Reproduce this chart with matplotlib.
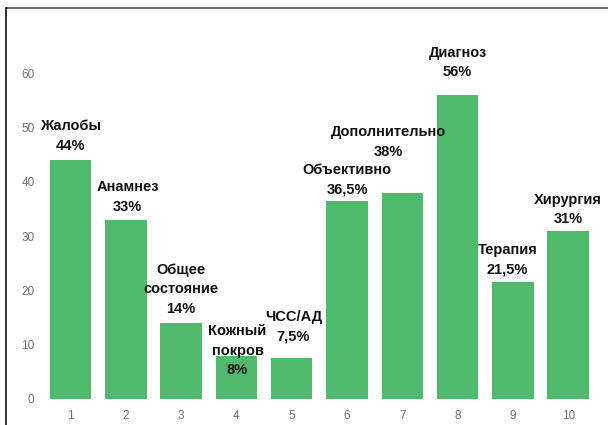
import matplotlib
matplotlib.use('Agg')
import matplotlib.pyplot as plt
from matplotlib.lines import Line2D

# Data
positions = [1, 2, 3, 4, 5, 6, 7, 8, 9, 10]
values = [44, 33, 14, 8, 7.5, 36.5, 38, 56, 21.5, 31]
names = ['Жалобы', 'Анамнез', 'Общее\nсостояние', 'Кожный\nпокров', 'ЧСС/АД',
         'Объективно', 'Дополнительно', 'Диагноз', 'Терапия', 'Хирургия']
value_labels = ['44%', '33%', '14%', '8%', '7,5%', '36,5%', '38%', '56%', '21,5%', '31%']
y_ticks = [0, 10, 20, 30, 40, 50, 60]

# label layout: y of the bottom line centre (data units) and x shift
label_y = [46.6, 35.4, 16.6, 5.3, 11.6, 38.5, 45.5, 60.2, 23.9, 33.1]
label_dx = [0, 0.03, 0, 0.02, 0.03, 0, -0.25, 0, -0.1, 0]

plt.rcParams['font.family'] = ['Liberation Sans', 'DejaVu Sans']

fig = plt.figure(figsize=(6.08, 4.25), dpi=100)
ax = fig.add_axes([0.0705, 0.0612, 0.9095, 0.8306])

ax.bar(positions, values, width=0.75, color='#4fba6c')

# bar captions: name on top, percentage below
for x, dx, ly, name, val in zip(positions, label_dx, label_y, names, value_labels):
    ax.text(x + dx, ly - 1.3, f'{name}\n{val}', ha='center', va='bottom',
            multialignment='center', fontsize=10.5, fontweight='bold',
            color='#111111', linespacing=1.5, clip_on=False)

ax.set_xlim(0.5, 10.5)
ax.set_ylim(0, 65)
ax.set_xticks(positions)
ax.set_yticks(y_ticks)
ax.tick_params(axis='both', length=0, labelsize=8.5, labelcolor='#707070')
ax.tick_params(axis='y', pad=6)
ax.tick_params(axis='x', pad=8)
for s in ax.spines.values():
    s.set_visible(False)

# outer frame (top and left edges)
fig.add_artist(Line2D([6 / 608, 1], [1 - 8 / 425, 1 - 8 / 425], color='#555555', lw=1.2,
                      transform=fig.transFigure))
fig.add_artist(Line2D([6 / 608, 6 / 608], [0, 1 - 8 / 425], color='#111111', lw=1.2,
                      transform=fig.transFigure))

fig.savefig('out.png', dpi=100)
